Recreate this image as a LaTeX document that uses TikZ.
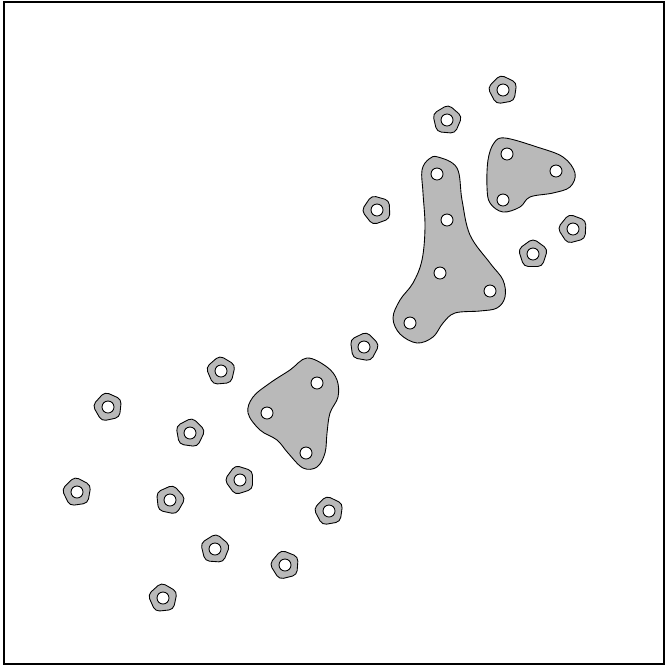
\documentclass[tikz,border=0pt]{standalone}
\usetikzlibrary{shapes.geometric}

\tikzset{
    blob/.style={fill=gray!55, draw=black, line width=0.5pt},
    smallblob/.style={blob, regular polygon, regular polygon sides=5,
        minimum size=0.62cm, inner sep=0pt, rounded corners=2.5pt},
    hole/.style={circle, fill=white, draw=black, line width=0.5pt,
        minimum size=0.24cm, inner sep=0pt}
}

\begin{document}
\begin{tikzpicture}[x=0.02cm, y=-0.02cm]
    \useasboundingbox (0,0) rectangle (665,666);
    \draw[line width=0.8pt] (4,2) rectangle (664,664);

    % single points
    \foreach \x/\y/\r [count=\i] in {503/90/10, 447/120/-5, 377/210/20,
        533/254/0, 573/229/15, 364/347/-10, 221/371/5, 108/407/12,
        190/433/-8, 240/480/18, 77/492/8, 170/500/-12, 329/511/10,
        215/549/-4, 285/565/14, 163/598/6}
    {
        \node[smallblob, rotate=\r] (s\i) at (\x,\y) {};
        \node[hole] (p\i) at (s\i.center) {};
    }

    % long cluster
    \draw[blob] plot[smooth cycle, tension=0.6] coordinates {
        (438,157) (457,168) (462,200) (470,235) (490,263) (503,280)
        (505,297) (497,308) (480,311) (455,313) (443,323) (433,337)
        (417,343) (400,334) (393,318) (400,300) (413,283) (422,260)
        (425,227) (423,193) (422,170) (429,159)};
    % triangle cluster
    \draw[blob] plot[smooth cycle, tension=0.6] coordinates {
        (505,138) (537,147) (563,157) (575,173) (570,187) (553,193)
        (530,197) (520,207) (503,212) (490,203) (487,187) (488,160)
        (494,143)};
    % lower cluster
    \draw[blob] plot[smooth cycle, tension=0.6] coordinates {
        (307,358) (327,367) (337,380) (338,397) (330,413) (327,433)
        (325,453) (317,467) (303,468) (288,453) (277,440) (260,430)
        (248,413) (253,397) (270,383) (290,370)};

    \foreach \x/\y [count=\i] in {437/174, 447/220, 440/273, 490/291,
        410/323, 507/154, 556/171, 503/200, 317/383, 267/413, 306/453}
        \node[hole] (q\i) at (\x,\y) {};
\end{tikzpicture}
\end{document}
